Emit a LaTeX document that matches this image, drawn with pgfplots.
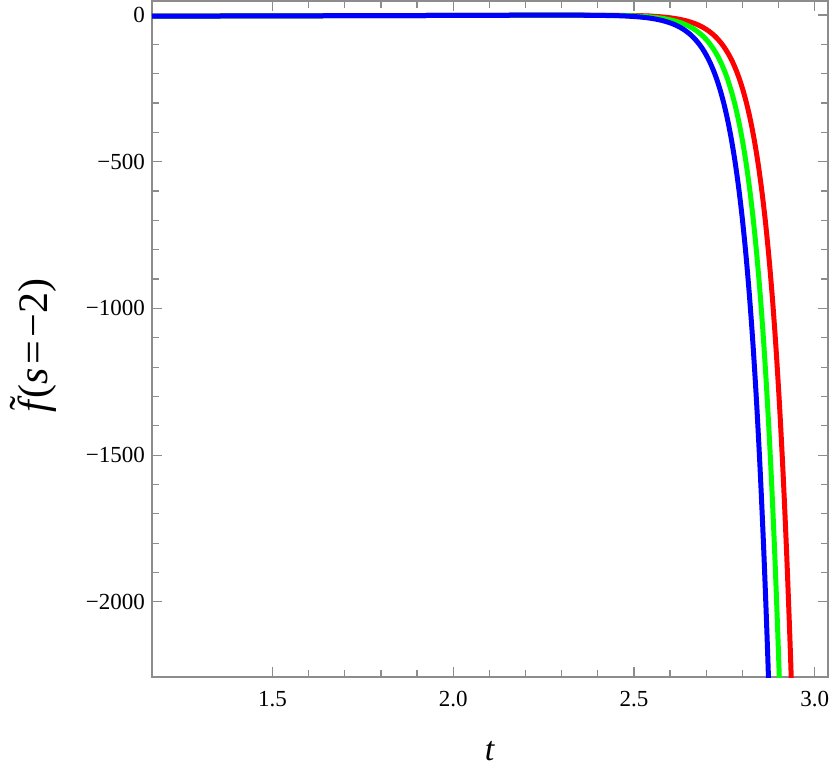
\documentclass[border=0pt]{standalone}
\usepackage{fontspec}
\setmainfont{Liberation Serif}
\usepackage{pgfplots}
\pgfplotsset{compat=1.18}
\usetikzlibrary{calc}

\definecolor{frameGray}{RGB}{140,140,140}
\newcommand{\ftilde}{\makebox[0pt][l]{\hspace{0.06em}\raisebox{0.22em}{\char"02DC}}{\itshape f}\hspace{0.06em}}

\begin{document}
\begin{tikzpicture}
\begin{axis}[
    name=ax,
    scale only axis,
    width=338pt, height=338pt,
    xmin=1.1667, xmax=3.037,
    ymin=-2256, ymax=47.7,
    axis line style={frameGray, line width=0.6pt},
    tick align=inside,
    xtick pos=both, ytick pos=both,
    xtick={1.5,2.0,2.5,3.0},
    xticklabels={1.5,2.0,2.5,3.0},
    ytick={-2000,-1500,-1000,-500,0},
    yticklabels={−2000,−1500,−1000,−500,0},
    minor x tick num=4,
    minor y tick num=4,
    major tick length=5pt,
    minor tick length=3.3pt,
    every tick/.style={frameGray, line width=0.6pt},
    tick label style={font=\fontsize{11.5}{13}\selectfont},
    xticklabel style={yshift=-3.5pt},
    xlabel={\textit{t}},
    xlabel style={font=\fontsize{17}{19}\selectfont, at={(axis description cs:0.5,-0.123)}, anchor=base},
    ylabel={\ftilde({\itshape s}\hspace{0.08em}=\hspace{0.08em}−2)},
    ylabel style={font=\fontsize{21}{24}\selectfont, at={(axis description cs:-0.175,0.49)}, anchor=center},
    every axis plot/.append style={line width=2.5pt, smooth},
]
% red curve
\addplot[red] coordinates {
(1.1667,-4) (1.5,-3) (2.0,-1.5) (2.3,-0.5)
(2.513,-2.3) (2.563,-5.2) (2.583,-7.2) (2.603,-10.0) (2.623,-13.9) (2.643,-19.3)
(2.663,-26.7) (2.673,-31.4) (2.683,-37.0) (2.693,-43.5) (2.703,-51.2) (2.713,-60.3)
(2.723,-70.9) (2.733,-83.5) (2.743,-98.3) (2.753,-115.7) (2.763,-136.1) (2.773,-160.2)
(2.783,-188.6) (2.793,-222.0) (2.803,-261.3) (2.813,-307.5) (2.823,-361.9) (2.833,-426)
(2.843,-501.4) (2.853,-590.2) (2.863,-694.6) (2.873,-817.6) (2.883,-962.3) (2.893,-1132.6)
(2.903,-1333.1) (2.913,-1569.1) (2.923,-1846.8) (2.933,-2173.7) (2.943,-2558.5)
};
% green curve
\addplot[green] coordinates {
(1.1667,-4) (1.5,-3) (2.0,-1.5) (2.3,-0.5)
(2.48,-2.3) (2.53,-5.2) (2.55,-7.2) (2.57,-10.0) (2.59,-13.9) (2.61,-19.3)
(2.63,-26.7) (2.64,-31.4) (2.65,-37.0) (2.66,-43.5) (2.67,-51.2) (2.68,-60.3)
(2.69,-70.9) (2.70,-83.5) (2.71,-98.3) (2.72,-115.7) (2.73,-136.1) (2.74,-160.2)
(2.75,-188.6) (2.76,-222.0) (2.77,-261.3) (2.78,-307.5) (2.79,-361.9) (2.80,-426)
(2.81,-501.4) (2.82,-590.2) (2.83,-694.6) (2.84,-817.6) (2.85,-962.3) (2.86,-1132.6)
(2.87,-1333.1) (2.88,-1569.1) (2.89,-1846.8) (2.90,-2173.7) (2.91,-2558.5)
};
% blue curve
\addplot[blue] coordinates {
(1.1667,-4) (1.5,-3) (2.0,-1.5) (2.3,-0.5)
(2.45,-2.3) (2.50,-5.2) (2.52,-7.2) (2.54,-10.0) (2.56,-13.9) (2.58,-19.3)
(2.60,-26.7) (2.61,-31.4) (2.62,-37.0) (2.63,-43.5) (2.64,-51.2) (2.65,-60.3)
(2.66,-70.9) (2.67,-83.5) (2.68,-98.3) (2.69,-115.7) (2.70,-136.1) (2.71,-160.2)
(2.72,-188.6) (2.73,-222.0) (2.74,-261.3) (2.75,-307.5) (2.76,-361.9) (2.77,-426)
(2.78,-501.4) (2.79,-590.2) (2.80,-694.6) (2.81,-817.6) (2.82,-962.3) (2.83,-1132.6)
(2.84,-1333.1) (2.85,-1569.1) (2.86,-1846.8) (2.87,-2173.7) (2.88,-2558.5)
};
\end{axis}
\pgfresetboundingbox
\path[use as bounding box] ($(ax.south west)+(-76pt,-45pt)$) rectangle ($(ax.north east)+(1pt,0.5pt)$);
\end{tikzpicture}
\end{document}
